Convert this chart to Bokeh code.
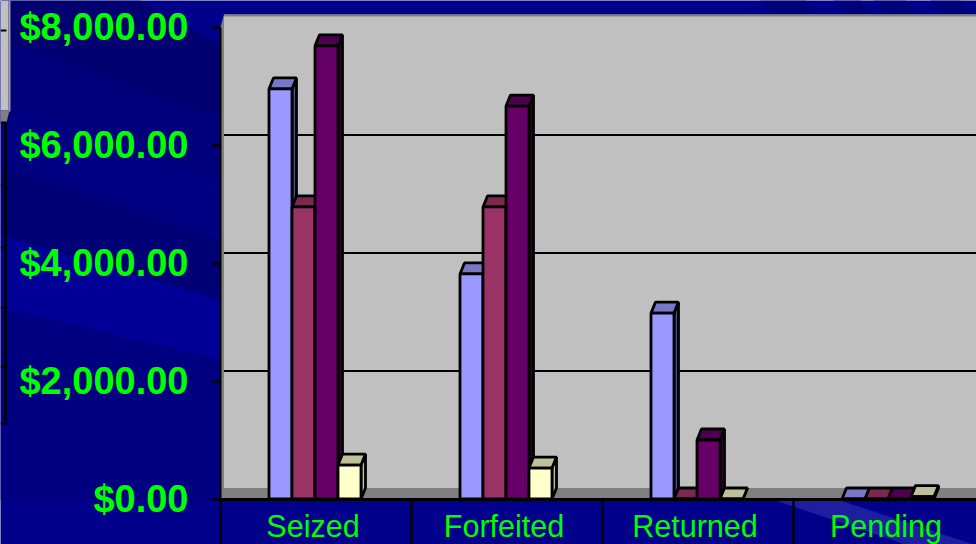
from bokeh.plotting import figure
from bokeh.embed import file_html
from bokeh.resources import INLINE
from bokeh.models import FixedTicker, NumeralTickFormatter, Range1d

categories = ["Seized", "Forfeited", "Returned", "Pending"]
series_blue = [6950, 3815, 3150, 0]
series_maroon = [4950, 4950, 0, 0]
series_purple = [7680, 6660, 1000, 0]
series_cream = [575, 525, 0, 40]
y_ticks = [0, 2000, 4000, 6000, 8000]
grid_values = [2000, 4000, 6000]

W, H = 976, 544
X0, CAT_W = 220.0, 191.0      # pixel of the axis origin, pixels per category
Y0, PX_PER_USD = 498.5, 118.0 / 2000.0


def ux(px):
    return (px - X0) / CAT_W


def uy(py):
    return (Y0 - py) / PX_PER_USD


DX = 4.5 / CAT_W
DY = 11 / PX_PER_USD
BAR_W = 23.0 / CAT_W
WALL_DX = 3.5 / CAT_W
GRID_DY = 10 / PX_PER_USD

p = figure(width=W, height=H, output_backend="svg", toolbar_location=None,
           x_range=Range1d(ux(0), ux(W)), y_range=Range1d(uy(H), uy(0)),
           min_border=0, outline_line_color=None, background_fill_color="#00008B",
           border_fill_color="#00008B")
p.styles = {"position": "absolute", "left": "0px", "top": "0px"}
p.grid.visible = False


def poly(points, color, line=None, width=1):
    p.patch([ux(a) for a, _ in points], [uy(b) for _, b in points],
            fill_color=color, line_color=line, line_width=width)


# slide background bands
poly([(0, 0), (140, 0), (222, 45), (222, 118), (60, 60), (0, 40)], "#000070")
poly([(0, 40), (60, 60), (222, 118), (222, 180), (0, 100)], "#00007A")
poly([(0, 100), (222, 180), (222, 240), (0, 165)], "#000082")
poly([(0, 165), (222, 240), (222, 300), (0, 235)], "#000076")
poly([(0, 235), (222, 300), (222, 360), (0, 307)], "#000096")
poly([(0, 307), (222, 360), (222, 500), (0, 500)], "#000080")
poly([(775, 500), (840, 500), (973, 544), (905, 544)], "#1E1EA0")
for a, b in [(760, 805), (833, 860), (873, 905), (930, 960)]:
    poly([(a, 0), (b, 0), (b + 12, 14), (a + 12, 14)], "#00007A")

# fragment of the neighbouring chart at the left edge
poly([(0, 0), (8, 0), (8, 110), (0, 110)], "#C0C0C0")
poly([(8, 0), (10, 0), (10, 111), (8, 111)], "#A0A0A0")
poly([(0, 110), (9, 110), (6, 122), (0, 122)], "#808080")
p.segment([ux(5)], [uy(122)], [ux(5)], [uy(421)], line_color="black", line_width=2.5)
tick_px = [30, 122, 185, 247, 307, 366, 423]
p.segment([ux(0)] * len(tick_px), [uy(v) for v in tick_px],
          [ux(6)] * len(tick_px), [uy(v) for v in tick_px],
          line_color="black", line_width=2)

# chart walls and floor
right = ux(W)
top_wall = uy(14)
p.quad(left=WALL_DX, right=right, bottom=GRID_DY, top=top_wall, fill_color="#C0C0C0", line_color=None)
p.patch([0, WALL_DX, WALL_DX, 0], [0, GRID_DY, top_wall, 8000], fill_color="#808080", line_color=None)
p.patch([0, WALL_DX, right, right], [0, GRID_DY * 1.1, GRID_DY * 1.1, 0], fill_color="#808080", line_color=None)
p.quad(left=WALL_DX, right=right, bottom=uy(16), top=top_wall, fill_color="#808080", line_color=None)
grid_y = [v + GRID_DY for v in grid_values]
p.segment([WALL_DX] * 3, grid_y, [right] * 3, grid_y, line_color="black", line_width=2)

# 3-D bars
all_series = [
    (series_blue, "#9999FF", "#7878C8", "#4D4D80"),
    (series_maroon, "#993366", "#7A2952", "#4D1933"),
    (series_purple, "#660066", "#4D004D", "#330033"),
    (series_cream, "#FFFFCC", "#BFBF99", "#BFBF99"),
]
xs, ys, colors = [], [], []
for c in range(len(categories)):
    left_edge = c + 0.5 - 2 * BAR_W - 1.0 / CAT_W
    for s, (vals, front, top, side) in enumerate(all_series):
        a, b, v = left_edge + s * BAR_W, left_edge + (s + 1) * BAR_W, vals[c]
        xs.append([b, b + DX, b + DX, b]);  ys.append([0, DY, v + DY, v]);      colors.append(side)
        xs.append([a, a + DX, b + DX, b]);  ys.append([v, v + DY, v + DY, v]);  colors.append(top)
        xs.append([a, b, b, a]);            ys.append([0, 0, v, v]);            colors.append(front)
p.patches(xs, ys, fill_color=colors, line_color="black", line_width=2.8)

# category dividers below the axis
div = list(range(len(categories) + 1))
p.segment(div, [0] * len(div), div, [uy(H)] * len(div), line_color="black", line_width=2.5)

# axes drawn inside the frame so the background shows behind them
xa, ya = p.xaxis[0], p.yaxis[0]
centres = [i + 0.5 - 3.0 / CAT_W for i in range(len(categories))]
xa.fixed_location = 0
xa.bounds = (0, right)
xa.ticker = FixedTicker(ticks=centres)
xa.major_label_overrides = {c: n for c, n in zip(centres, categories)}
xa.major_tick_line_color = None
xa.major_tick_in = 0
xa.major_tick_out = 0
xa.minor_tick_line_color = None
xa.axis_line_color = "black"
xa.axis_line_width = 3
xa.major_label_standoff = 10
xa.major_label_text_color = "#00FF00"
xa.major_label_text_font = "Liberation Sans"
xa.major_label_text_font_size = "30.5px"

ya.fixed_location = 0
ya.bounds = (0, 8000)
ya.ticker = FixedTicker(ticks=y_ticks)
ya.formatter = NumeralTickFormatter(format="$0,0.00")
ya.minor_tick_line_color = None
ya.major_tick_in = 0
ya.major_tick_out = 8
ya.major_tick_line_color = "black"
ya.major_tick_line_width = 2.5
ya.axis_line_color = "black"
ya.axis_line_width = 2
ya.major_label_standoff = 24
ya.major_label_text_color = "#00FF00"
ya.major_label_text_font = "Liberation Sans"
ya.major_label_text_font_style = "bold"
ya.major_label_text_font_size = "38px"

open("out.html", "w").write(file_html(p, INLINE))
